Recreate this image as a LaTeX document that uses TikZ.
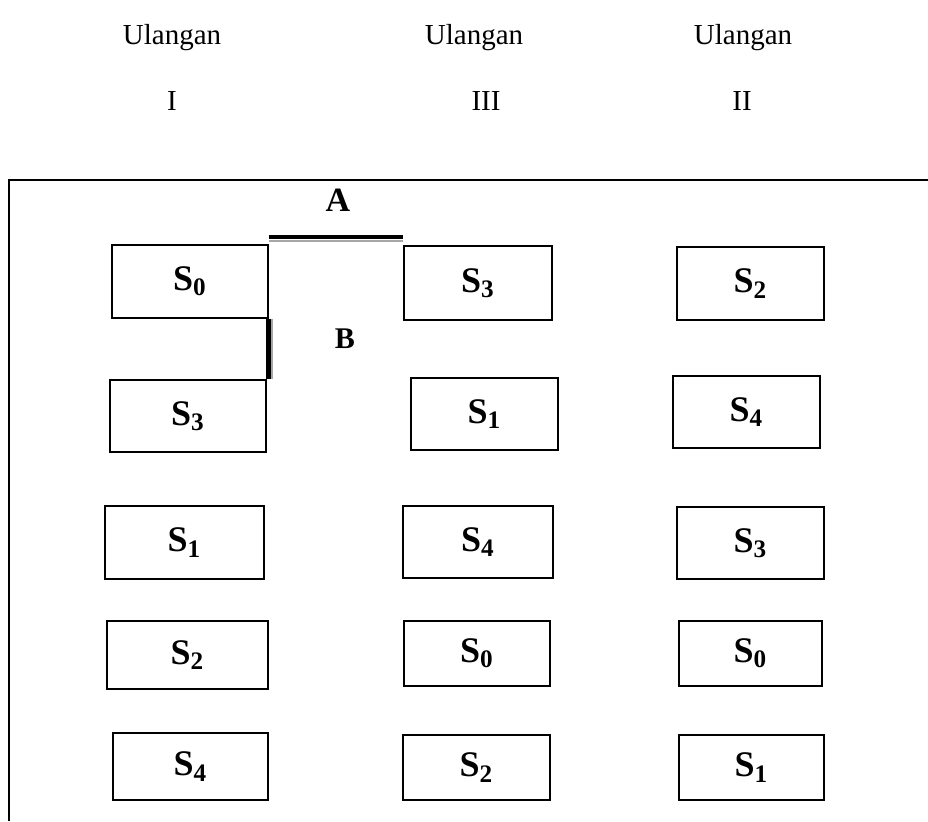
\documentclass[tikz,border=0pt]{standalone}
\usepackage{fontspec}
\setmainfont{Liberation Serif}
\tikzset{
  plot/.style 2 args={draw=black, line width=0.75pt, minimum width=#1*0.5pt, minimum height=#2*0.5pt, inner sep=0pt, font=\fontsize{18}{20}\selectfont\bfseries},
  head/.style={inner sep=0pt, font=\fontsize{14.5}{17}\selectfont},
  mark label/.style={inner sep=0pt, font=\fontsize{17}{19}\selectfont\bfseries},
  bar/.style={line width=2.4pt, black}
}
\newcommand{\trt}[1]{S\textsubscript{#1}}
\begin{document}
\begin{tikzpicture}[x=0.5pt,y=-0.5pt]
\useasboundingbox (0,0) rectangle (928,821);
% headings
\node[head] (u1) at (172,38) {Ulangan};
\node[head] (u3) at (474,38) {Ulangan};
\node[head] (u2) at (743,38) {Ulangan};
\node[head] (r1) at (172,101) {I};
\node[head] (r3) at (486,101) {III};
\node[head] (r2) at (742,101) {II};
% frame
\draw[line width=1pt] (9,821) -- (9,180) -- (928,180);
% column I
\node[plot={156}{73}] (s01) at (190,281.5) {\trt{0}};
\node[plot={156}{72}] (s02) at (188,416) {\trt{3}};
\node[plot={159}{73}] (s03) at (184.5,542.5) {\trt{1}};
\node[plot={161}{68}] (s04) at (187.5,655) {\trt{2}};
\node[plot={155}{67}] (s05) at (190.5,766.5) {\trt{4}};
% column III
\node[plot={148}{74}] (s31) at (478,283) {\trt{3}};
\node[plot={147}{72}] (s32) at (484.5,414) {\trt{1}};
\node[plot={150}{72}] (s33) at (478,542) {\trt{4}};
\node[plot={146}{65}] (s34) at (477,653.5) {\trt{0}};
\node[plot={147}{65}] (s35) at (476.5,767.5) {\trt{2}};
% column II
\node[plot={147}{73}] (s21) at (750.5,283.5) {\trt{2}};
\node[plot={147}{72}] (s22) at (746.5,412) {\trt{4}};
\node[plot={147}{72}] (s23) at (750.5,543) {\trt{3}};
\node[plot={143}{65}] (s24) at (750.5,653.5) {\trt{0}};
\node[plot={145}{65}] (s25) at (751.5,767.5) {\trt{1}};
% borders A and B
\draw[gray!70, line width=1pt] (s01.north east |- 0,240.5) -- (s31.north west |- 0,240.5);
\draw[bar] (s01.north east |- 0,237) -- (s31.north west |- 0,237);
\draw[gray!70, line width=1pt] ([xshift=1.6pt]s01.south east) -- ([xshift=1.6pt]s01.south east |- s02.north);
\draw[bar] (s01.south east) -- (s01.south east |- s02.north);
\node[mark label] (a) at (338,200) {A};
\node[mark label, font=\fontsize{15}{17}\selectfont\bfseries] (b) at (345,339) {B};
\end{tikzpicture}
\end{document}
